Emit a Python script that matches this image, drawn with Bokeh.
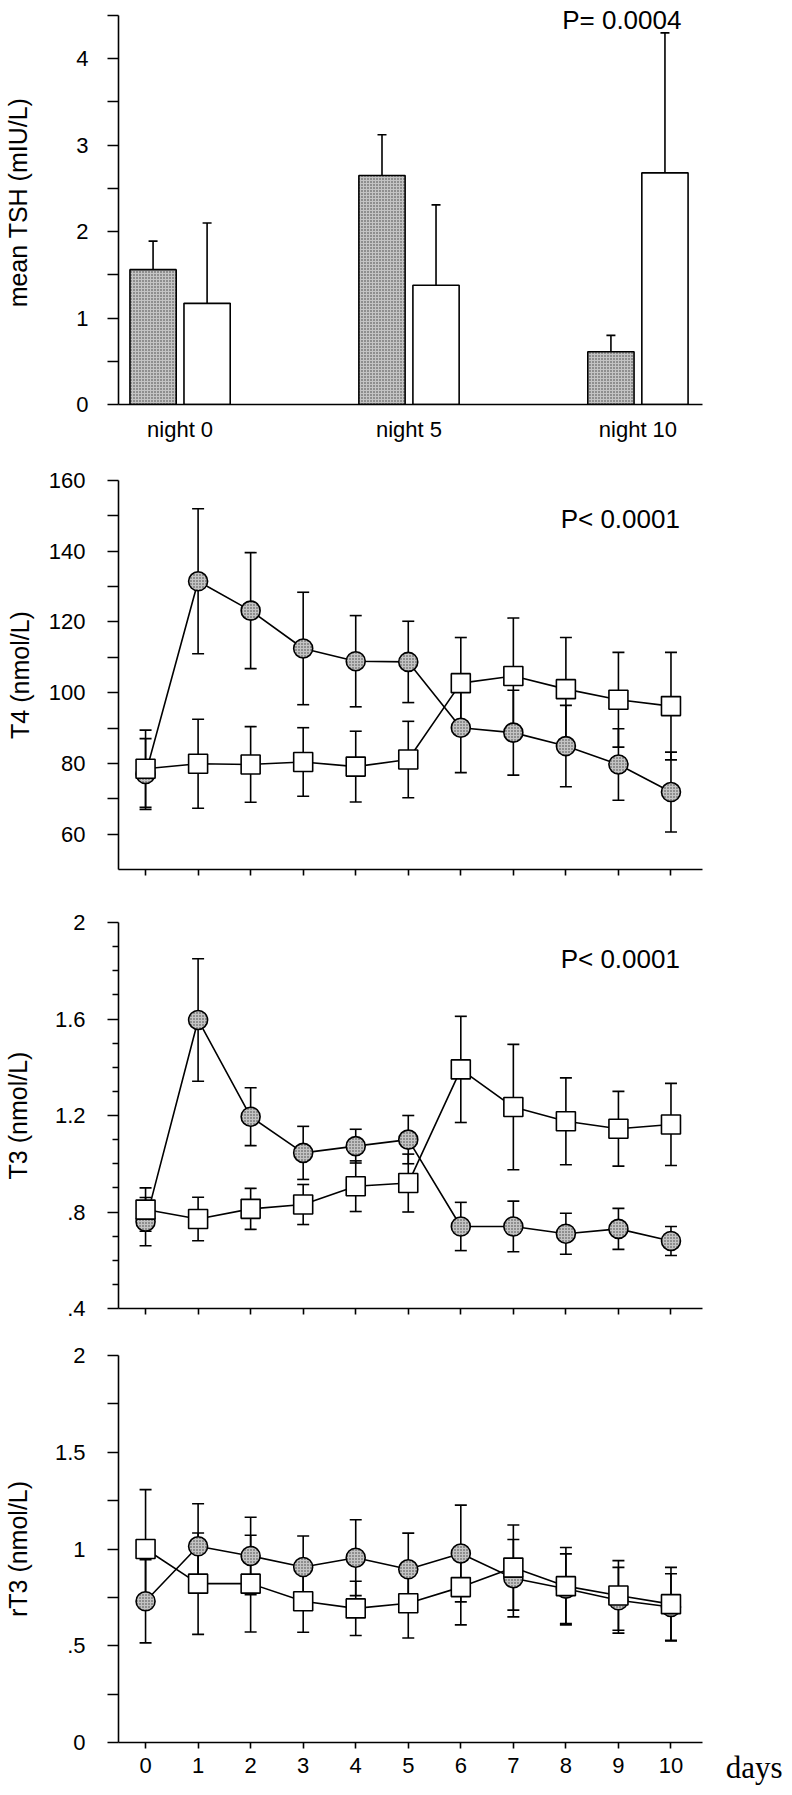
from bokeh.plotting import figure
from bokeh.layouts import column
from bokeh.models import FixedTicker, Whisker, ColumnDataSource, Label, TeeHead, Range1d, Title
from bokeh.embed import file_html
from bokeh.resources import INLINE
from bokeh.transform import dodge

# ---------------- data ----------------
nights = ["night 0", "night 5", "night 10"]
tsh_dark = [1.56, 2.65, 0.61]
tsh_dark_err = [0.33, 0.47, 0.19]
tsh_light = [1.17, 1.38, 2.68]
tsh_light_err = [0.93, 0.93, 1.62]

days = [0, 1, 2, 3, 4, 5, 6, 7, 8, 9, 10]

t4_circle = [77.0, 131.5, 123.2, 112.5, 108.9, 108.7, 90.1, 88.7, 84.9, 79.7, 71.9]
t4_circle_sd = [10.0, 20.5, 16.4, 15.9, 12.9, 11.5, 12.7, 12.0, 11.5, 10.1, 11.3]
t4_square = [78.5, 79.9, 79.7, 80.4, 79.1, 81.1, 102.7, 104.7, 101.0, 98.0, 96.2]
t4_square_sd = [10.9, 12.6, 10.7, 9.7, 10.0, 10.8, 12.9, 16.4, 14.6, 13.4, 15.2]

t3_circle = [0.76, 1.596, 1.195, 1.045, 1.073, 1.10, 0.74, 0.74, 0.71, 0.73, 0.68]
t3_circle_sd = [0.10, 0.254, 0.12, 0.11, 0.07, 0.10, 0.10, 0.105, 0.085, 0.085, 0.06]
t3_square = [0.81, 0.771, 0.813, 0.831, 0.907, 0.92, 1.391, 1.235, 1.176, 1.145, 1.163]
t3_square_sd = [0.09, 0.09, 0.085, 0.083, 0.105, 0.12, 0.22, 0.26, 0.18, 0.155, 0.17]

rt3_circle = [0.73, 1.014, 0.964, 0.907, 0.955, 0.895, 0.977, 0.849, 0.795, 0.735, 0.70]
rt3_circle_sd = [0.215, 0.22, 0.20, 0.16, 0.196, 0.187, 0.25, 0.20, 0.18, 0.17, 0.172]
rt3_square = [1.0, 0.821, 0.821, 0.73, 0.693, 0.72, 0.803, 0.904, 0.808, 0.76, 0.715]
rt3_square_sd = [0.307, 0.262, 0.25, 0.16, 0.14, 0.18, 0.195, 0.22, 0.20, 0.18, 0.19]

tsh_ticks = [0, 1, 2, 3, 4]
tsh_minor = [0.5, 1.5, 2.5, 3.5, 4.5]
t4_ticks = [60, 80, 100, 120, 140, 160]
t4_minor = [70, 90, 110, 130, 150]
t3_ticks = [0.4, 0.8, 1.2, 1.6, 2.0]
t3_labels = [".4", ".8", "1.2", "1.6", "2"]
t3_minor = [0.5, 0.6, 0.7, 0.9, 1.0, 1.1, 1.3, 1.4, 1.5, 1.7, 1.8, 1.9]
rt3_ticks = [0, 0.5, 1.0, 1.5, 2.0]
rt3_labels = ["0", ".5", "1", "1.5", "2"]
rt3_minor = [0.25, 0.75, 1.25, 1.75]

# ---------------- style ----------------
FONT = "Liberation Sans"
TICK_FS = "22px"
AXLAB_FS = "25px"
P_FS = "26px"
W = 784
LEFT = 109
RIGHT = 82
GRAY = "#c4c4c4"
HATCH = dict(hatch_pattern="dot", hatch_scale=3, hatch_color="#3c3c3c", hatch_weight=1.0)
LW = 1.6
DAY_RANGE = (-0.515, 10.6)


def base_fig(height, top, bottom, x_range, y_range):
    p = figure(width=W, height=height, x_range=Range1d(*x_range), y_range=Range1d(*y_range),
               output_backend="svg", toolbar_location=None,
               min_border_left=LEFT, min_border_right=RIGHT,
               min_border_top=top, min_border_bottom=bottom)
    p.outline_line_color = None
    p.xgrid.grid_line_color = None
    p.ygrid.grid_line_color = None
    p.background_fill_color = "white"
    p.border_fill_color = "white"
    for ax in (p.xaxis[0], p.yaxis[0]):
        ax.axis_line_color = "black"
        ax.axis_line_width = LW
        ax.major_tick_line_color = "black"
        ax.major_tick_line_width = LW
        ax.minor_tick_line_color = "black"
        ax.minor_tick_line_width = LW
        ax.major_label_text_font = FONT
        ax.major_label_text_font_size = TICK_FS
        ax.major_label_text_color = "black"
        ax.axis_label_text_font = FONT
        ax.axis_label_text_font_size = AXLAB_FS
        ax.axis_label_text_font_style = "normal"
        ax.axis_label_text_color = "black"
    y = p.yaxis[0]
    y.major_tick_in = 0
    y.major_tick_out = 11
    y.minor_tick_in = 0
    y.minor_tick_out = 11
    y.major_label_standoff = 22
    return p


def day_axis(p, show_labels):
    x = p.xaxis[0]
    x.ticker = FixedTicker(ticks=days)
    x.major_tick_in = 0
    x.major_tick_out = 6
    x.minor_tick_line_color = None
    if show_labels:
        x.major_label_standoff = 9
        x.major_label_overrides = {d: str(d) for d in days}
    else:
        x.major_label_standoff = 0
        x.major_label_text_font_size = "1px"
        x.major_label_text_color = None


def series(p, circ, circ_sd, sq, sq_sd, cap):
    src = ColumnDataSource(dict(
        day=days,
        c=circ, c_lo=[v - s for v, s in zip(circ, circ_sd)], c_hi=[v + s for v, s in zip(circ, circ_sd)],
        s=sq, s_lo=[v - s for v, s in zip(sq, sq_sd)], s_hi=[v + s for v, s in zip(sq, sq_sd)],
    ))
    for lo, hi in (("c_lo", "c_hi"), ("s_lo", "s_hi")):
        w = Whisker(source=src, base="day", lower=lo, upper=hi, dimension="height",
                    line_color="black", line_width=LW, level="underlay",
                    lower_head=TeeHead(size=cap, line_color="black", line_width=LW),
                    upper_head=TeeHead(size=cap, line_color="black", line_width=LW))
        p.add_layout(w)
    p.line("day", "c", source=src, line_color="black", line_width=LW)
    p.line("day", "s", source=src, line_color="black", line_width=LW)
    p.scatter("day", "c", source=src, marker="circle", size=19, fill_color=GRAY,
              line_color="black", line_width=LW, **HATCH)
    p.scatter("day", "s", source=src, marker="square", size=19, fill_color="white",
              line_color="black", line_width=LW)


def p_label(p, x, y, text):
    p.add_layout(Label(x=x, y=y, text=text, text_align="right", text_baseline="alphabetic",
                       text_font=FONT, text_font_size=P_FS, text_color="black"))


# ---------------- panel 1: TSH ----------------
p1 = base_fig(462, 0, 58, (-0.269, 2.282), (0, 4.674))
src1 = ColumnDataSource(dict(
    x=list(range(len(nights))),
    dark=tsh_dark, dark_hi=[v + e for v, e in zip(tsh_dark, tsh_dark_err)],
    light=tsh_light, light_hi=[v + e for v, e in zip(tsh_light, tsh_light_err)],
))
OFF = 0.118
BW = 0.202
for col, hi in (("dark", "dark_hi"), ("light", "light_hi")):
    off = -OFF if col == "dark" else OFF
    p1.add_layout(Whisker(source=src1, base=dodge("x", off), lower=col, upper=hi,
                          dimension="height", line_color="black", line_width=LW, level="underlay",
                          lower_head=None,
                          upper_head=TeeHead(size=9, line_color="black", line_width=LW)))
p1.vbar(x=dodge("x", -OFF), top="dark", bottom=0, width=BW, source=src1,
        fill_color=GRAY, line_color="black", line_width=LW, **HATCH)
p1.vbar(x=dodge("x", OFF), top="light", bottom=0, width=BW, source=src1,
        fill_color="white", line_color="black", line_width=LW)
p1.yaxis[0].ticker = FixedTicker(ticks=tsh_ticks, minor_ticks=tsh_minor)
p1.yaxis[0].bounds = (0, 4.5)
p1.yaxis[0].major_label_standoff = 19
p1.yaxis[0].axis_label = "mean TSH (mIU/L)"
p1.yaxis[0].axis_label_standoff = 41
x1 = p1.xaxis[0]
x1.ticker = FixedTicker(ticks=list(range(len(nights))))
x1.major_label_overrides = {i: n for i, n in enumerate(nights)}
x1.major_tick_line_color = None
x1.minor_tick_line_color = None
x1.major_tick_out = 0
x1.major_tick_in = 0
x1.major_label_standoff = 12
p_label(p1, 2.19, 4.454, "P= 0.0004")

# ---------------- panel 2: T4 ----------------
p2 = base_fig(435, 18, 28, DAY_RANGE, (50, 160))
series(p2, t4_circle, t4_circle_sd, t4_square, t4_square_sd, 12)
p2.yaxis[0].ticker = FixedTicker(ticks=t4_ticks, minor_ticks=t4_minor)
p2.yaxis[0].axis_label = "T4 (nmol/L)"
p2.yaxis[0].axis_label_standoff = 12
day_axis(p2, False)
p_label(p2, 10.17, 149.0, "P< 0.0001")

# ---------------- panel 3: T3 ----------------
p3 = base_fig(435, 25, 24, DAY_RANGE, (0.4, 2.0))
series(p3, t3_circle, t3_circle_sd, t3_square, t3_square_sd, 12)
p3.yaxis[0].ticker = FixedTicker(ticks=t3_ticks, minor_ticks=t3_minor)
p3.yaxis[0].major_label_overrides = dict(zip(t3_ticks, t3_labels))
p3.yaxis[0].minor_tick_out = 6
p3.yaxis[0].axis_label = "T3 (nmol/L)"
p3.yaxis[0].axis_label_standoff = 20
day_axis(p3, False)
p_label(p3, 10.17, 1.847, "P< 0.0001")

# ---------------- panel 4: rT3 ----------------
p4 = base_fig(454, 23, 44, DAY_RANGE, (0, 2.0))
series(p4, rt3_circle, rt3_circle_sd, rt3_square, rt3_square_sd, 12)
p4.yaxis[0].ticker = FixedTicker(ticks=rt3_ticks, minor_ticks=rt3_minor)
p4.yaxis[0].major_label_overrides = dict(zip(rt3_ticks, rt3_labels))
p4.yaxis[0].axis_label = "rT3 (nmol/L)"
p4.yaxis[0].axis_label_standoff = 20
day_axis(p4, True)
p4.add_layout(Title(text="days", align="right", vertical_align="top", offset=-80, standoff=-52,
                    text_font="Liberation Serif", text_font_size="31px",
                    text_font_style="normal", text_color="black"), "below")

layout = column(p1, p2, p3, p4, spacing=0)
open("out.html", "w").write(file_html(layout, INLINE))
